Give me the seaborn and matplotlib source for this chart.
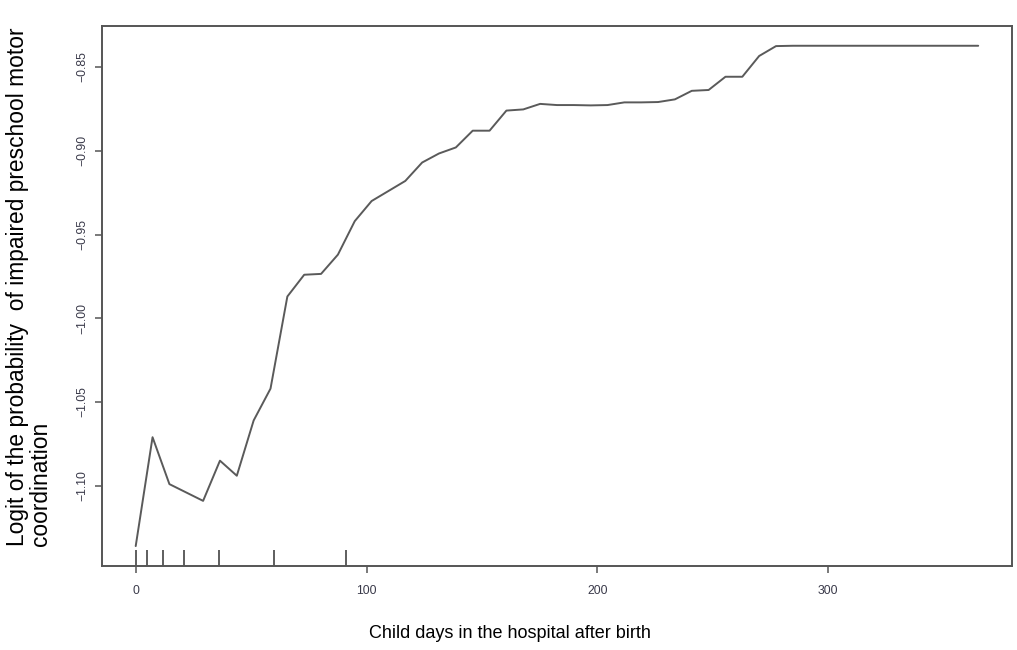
import numpy as np
import pandas as pd
import matplotlib
matplotlib.use("Agg")
import matplotlib.pyplot as plt
import seaborn as sns

# Data
days = [0.0, 7.3, 14.6, 21.9, 29.2, 36.5, 43.8, 51.1, 58.4, 65.7, 73.0, 80.3, 87.6,
        94.9, 102.2, 109.5, 116.8, 124.1, 131.4, 138.7, 146.0, 153.3, 160.6, 167.9,
        175.2, 182.5, 189.8, 197.1, 204.4, 211.7, 219.0, 226.3, 233.6, 240.9, 248.2,
        255.5, 262.8, 270.1, 277.4, 284.7, 292.0, 299.3, 306.6, 313.9, 321.2, 328.5,
        335.8, 343.1, 350.4, 357.7, 365.0]
logit = [-1.136, -1.071, -1.099, -1.104, -1.109, -1.085, -1.094, -1.061, -1.042,
         -0.987, -0.974, -0.9735, -0.962, -0.942, -0.930, -0.924, -0.918, -0.907,
         -0.9016, -0.898, -0.888, -0.888, -0.876, -0.8753, -0.872, -0.8727, -0.8727,
         -0.8729, -0.8727, -0.8711, -0.8711, -0.8709, -0.8693, -0.8642, -0.8637,
         -0.8558, -0.8558, -0.8434, -0.8375, -0.8373, -0.8373, -0.8373, -0.8373,
         -0.8373, -0.8373, -0.8373, -0.8373, -0.8373, -0.8373, -0.8373, -0.8373]
rug_days = [0, 5, 12, 21, 36, 60, 91]
x_ticks = [0, 100, 200, 300]
y_ticks = [-0.85, -0.90, -0.95, -1.00, -1.05, -1.10]

sns.set_style("white")
plt.rcParams['font.family'] = ['Liberation Sans', 'DejaVu Sans']

fig = plt.figure(figsize=(10.17, 6.5), dpi=100)
ax = fig.add_axes([0.1003, 0.1292, 0.8947, 0.8308])

df = pd.DataFrame({"days": days, "logit": logit})
sns.lineplot(data=df, x="days", y="logit", ax=ax, color="#5a5a5a", linewidth=1.4)
sns.rugplot(x=rug_days, ax=ax, height=0.03, color="#333333", linewidth=1.1)

ax.set_xlim(-14.6, 379.6)
ax.set_ylim(-1.1479, -0.8255)
ax.set_xticks(x_ticks)
ax.set_xticklabels([str(v) for v in x_ticks])
ax.set_yticks(y_ticks)
ax.set_yticklabels([f"{v:.2f}".replace("-", "\u2212") for v in y_ticks],
                   rotation=90, va="center")

for s in ax.spines.values():
    s.set_color("#555555")
    s.set_linewidth(1.4)

ax.tick_params(axis="both", which="both", direction="out", length=5, width=1.1,
               color="#555555", labelsize=8.8, labelcolor="#3a3a4a",
               bottom=True, left=True)
ax.tick_params(axis="x", pad=9)
ax.tick_params(axis="y", pad=5)
ax.set_xlabel("")
ax.set_ylabel("")

fig.text(510 / 1017, 1 - 633 / 650, "Child days in the hospital after birth",
         ha="center", va="center", fontsize=13, color="black")
fig.text(6 / 1017, 1 - 546 / 650,
         "Logit of the probability  of impaired preschool motor\ncoordination",
         rotation=90, ha="left", va="bottom", multialignment="left",
         fontsize=16.4, color="black", linespacing=0.98)

fig.savefig("out.png", dpi=100, facecolor="white")
